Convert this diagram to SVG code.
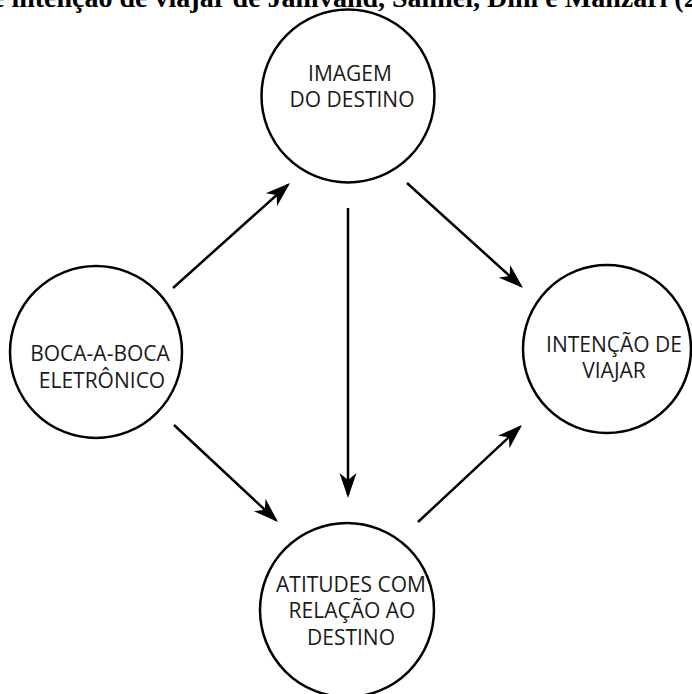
<svg xmlns="http://www.w3.org/2000/svg" width="692" height="694" viewBox="0 0 692 694">
  <style>
    .title { font-family: "Liberation Serif", "Times New Roman", serif; font-weight: bold; font-size: 28px; fill: #000; }
    .node circle { fill: #fff; stroke: #000; stroke-width: 2.5; }
    .node text { font-family: "Open Sans", "Noto Sans", sans-serif; font-size: 21px; fill: #1a1a1a; text-anchor: middle; }
    .edge { stroke: #000; stroke-width: 2.5; fill: none; marker-end: url(#arrow); }
  </style>
  <defs>
    <marker id="arrow" markerUnits="userSpaceOnUse" markerWidth="30" markerHeight="20" viewBox="-26 -10 30 20" refX="0" refY="0" orient="auto" overflow="visible">
      <path d="M3,0 L-22,-8.5 L-15,0 L-22,8.5 Z" fill="#000"/>
    </marker>
  </defs>
  <rect width="692" height="694" fill="#fff"/>

  <text class="title" x="-8" y="7">e intenção de viajar de Jalilvand, Samiei, Dini e Manzari (2</text>

  <g id="connectors">
    <line class="edge" x1="173" y1="288" x2="287.8" y2="185"/>
    <line class="edge" x1="407" y1="183" x2="520.8" y2="286"/>
    <line class="edge" x1="348" y1="208" x2="348" y2="495"/>
    <line class="edge" x1="174" y1="425" x2="275.8" y2="520"/>
    <line class="edge" x1="418" y1="522" x2="519.8" y2="427"/>
  </g>

  <g id="imagem-destino" class="node">
    <circle cx="348" cy="96" r="86.5"/>
    <text x="350" y="81">IMAGEM</text>
    <text x="352" y="107">DO DESTINO</text>
  </g>

  <g id="boca-a-boca" class="node">
    <circle cx="96" cy="352" r="86"/>
    <text x="100" y="361">BOCA-A-BOCA</text>
    <text x="102" y="388">ELETRÔNICO</text>
  </g>

  <g id="intencao-viajar" class="node">
    <circle cx="607" cy="349" r="84"/>
    <text x="614" y="352">INTENÇÃO DE</text>
    <text x="614" y="378">VIAJAR</text>
  </g>

  <g id="atitudes" class="node">
    <circle cx="347" cy="610" r="87"/>
    <text x="351" y="592">ATITUDES COM</text>
    <text x="352" y="618">RELAÇÃO AO</text>
    <text x="351" y="645">DESTINO</text>
  </g>
</svg>
